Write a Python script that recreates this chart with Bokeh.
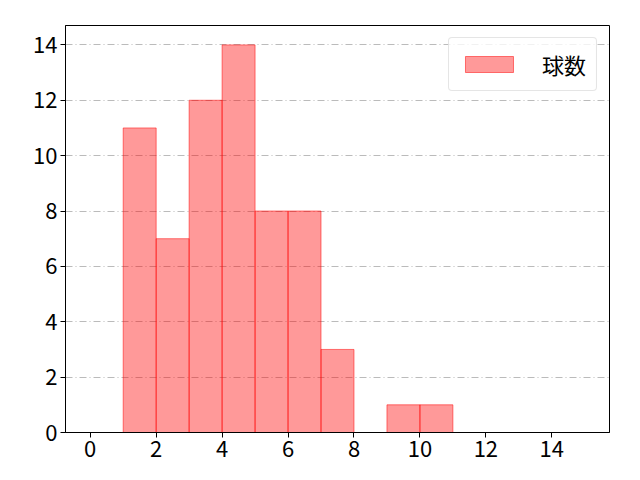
from bokeh.plotting import figure
from bokeh.embed import file_html
from bokeh.resources import INLINE
from bokeh.models import Range1d, FixedTicker

# histogram of pitch counts, bins of width 1
bin_left = [0, 1, 2, 3, 4, 5, 6, 7, 8, 9, 10, 11, 12, 13, 14]
bin_right = [1, 2, 3, 4, 5, 6, 7, 8, 9, 10, 11, 12, 13, 14, 15]
counts = [0, 11, 7, 12, 14, 8, 8, 3, 0, 1, 1, 0, 0, 0, 0]
x_ticks = [0, 2, 4, 6, 8, 10, 12, 14]
y_ticks = [0, 2, 4, 6, 8, 10, 12, 14]

font = "Noto Sans CJK JP"

p = figure(width=632, height=472, output_backend="svg", toolbar_location=None,
           x_range=Range1d(-0.75, 15.75), y_range=Range1d(0, 14.7),
           min_border_left=65, min_border_right=23, min_border_top=25,
           min_border_bottom=40)

p.quad(left=bin_left, right=bin_right, bottom=0, top=counts,
       fill_color="red", fill_alpha=0.4, line_color="red", line_alpha=0.5,
       line_width=1, legend_label="球数")

p.xaxis.ticker = FixedTicker(ticks=x_ticks)
p.yaxis.ticker = FixedTicker(ticks=y_ticks)
for ax in (p.xaxis, p.yaxis):
    ax.major_label_text_font = font
    ax.major_label_text_font_size = "22px"
    ax.major_label_text_color = "black"
    ax.minor_tick_line_color = None
    ax.major_tick_out = 5
    ax.major_tick_in = 0
    ax.major_label_standoff = 3
    ax.axis_line_color = "black"
    ax.major_tick_line_color = "black"

p.xgrid.grid_line_color = None
p.ygrid.grid_line_color = "#aaaaaa"
p.ygrid.grid_line_dash = "7 3 1 3"
p.ygrid.grid_line_width = 0.8

p.outline_line_color = "black"
p.outline_line_alpha = 1

p.legend.location = "top_right"
p.legend.label_text_font = font
p.legend.label_text_font_size = "22px"
p.legend.label_text_color = "black"
p.legend.border_line_color = "#cccccc"
p.legend.border_radius = 4
p.legend.margin = 12
p.legend.padding = 10
p.legend.glyph_width = 60
p.legend.glyph_height = 20
p.legend.label_standoff = 23
p.legend.background_fill_alpha = 0.8

open("out.html", "w").write(file_html(p, INLINE))
